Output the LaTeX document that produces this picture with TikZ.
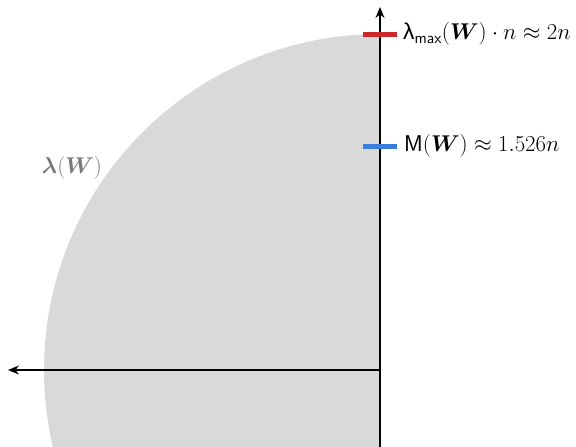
\documentclass[tikz,border=0pt]{standalone}
\usepackage{amsmath,bm}
\usepackage{fontspec}
\newfontfamily\lamfont{Liberation Sans}
\usetikzlibrary{arrows.meta}
\definecolor{diskgray}{RGB}{217,217,217}
\definecolor{tickred}{RGB}{204,41,41}
\definecolor{tickblue}{RGB}{58,125,221}
\definecolor{labgray}{RGB}{120,120,120}
\tikzset{
  axis/.style={line width=1.3pt,-{Stealth[length=11pt,width=9pt]}},
  tickmark/.style={line width=5pt},
  lab/.style={anchor=west,inner sep=0pt,scale=1.1,font=\fontsize{20.74}{25}\selectfont},
}
\begin{document}
\begin{tikzpicture}[x=1pt,y=-1pt]
\useasboundingbox (0,0) rectangle (576,447);
\coordinate (O) at (380,370);
\begin{scope}
\clip (0,0) rectangle (380,447);
\fill[diskgray] (O) circle[radius=336];
\end{scope}
\coordinate (xend) at (8,370);
\coordinate (yend) at (380,7);
\coordinate (ybot) at (380,447);
\draw[axis] (O) -- (xend);
\draw[axis] (ybot) -- (yend);
\coordinate (r1) at (363,34);
\coordinate (r2) at (397,34);
\coordinate (b1) at (363,146);
\coordinate (b2) at (397,146);
\draw[tickmark,tickred] (r1) -- (r2);
\draw[tickmark,tickblue] (b1) -- (b2);
\node[lab] (lmax) at (403,34) {$\text{\lamfont λ}_{\textsf{max}}(\bm{W})\cdot n\approx 2n$};
\node[lab] (mw) at (404,146) {$\textsf{M}(\bm{W})\approx 1.526n$};
\node[scale=1.1,font=\fontsize{20.74}{25}\selectfont,text=labgray,inner sep=0pt] (lw) at (72,168) {$\bm{\lambda}(\bm{W})$};
\end{tikzpicture}
\end{document}
